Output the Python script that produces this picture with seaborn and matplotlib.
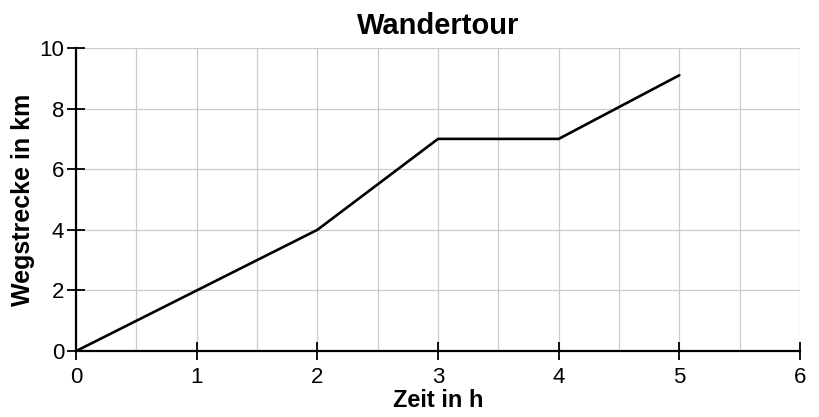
import pandas as pd
import matplotlib.pyplot as plt
from matplotlib.ticker import MultipleLocator
import seaborn as sns

# data
zeit = [0, 1, 2, 3, 4, 5]
strecke = [0, 2, 4, 7, 7, 9.1]

sns.set_style("white")
plt.rcParams['font.family'] = ['Liberation Sans', 'DejaVu Sans']
plt.rcParams['text.color'] = 'black'
plt.rcParams['axes.labelcolor'] = 'black'
plt.rcParams['xtick.color'] = 'black'
plt.rcParams['ytick.color'] = 'black'

df = pd.DataFrame({"Zeit": zeit, "Strecke": strecke})

fig = plt.figure(figsize=(8.19, 4.17), dpi=100)
ax = fig.add_axes([0.0928, 0.158, 0.8840, 0.727])

sns.lineplot(data=df, x="Zeit", y="Strecke", ax=ax, color="black",
             linewidth=1.9, zorder=5)

ax.set_xlim(0, 6)
ax.set_ylim(0, 10)
ax.xaxis.set_major_locator(MultipleLocator(1))
ax.xaxis.set_minor_locator(MultipleLocator(0.5))
ax.yaxis.set_major_locator(MultipleLocator(2))

ax.grid(True, which='both', color='#cccccc', linewidth=0.9)
ax.set_axisbelow(True)

for side in ['top', 'right']:
    ax.spines[side].set_visible(False)
for side in ['left', 'bottom']:
    ax.spines[side].set_color('black')
    ax.spines[side].set_linewidth(1.6)
    ax.spines[side].set_zorder(6)

ax.tick_params(axis='both', which='major', direction='inout', length=13,
               width=1.3, color='black', labelsize=16, pad=2,
               bottom=True, left=True)
ax.tick_params(axis='x', which='major', pad=5)
ax.tick_params(axis='both', which='minor', length=0)
for t in ax.get_xticklines() + ax.get_yticklines():
    t.set_clip_on(False)

ax.set_title("Wandertour", fontsize=21, fontweight='bold', pad=10)
ax.set_xlabel("Zeit in h", fontsize=17, fontweight='bold', labelpad=1)
ax.set_ylabel("Wegstrecke in km", fontsize=18, fontweight='bold', labelpad=3)

plt.savefig("out.png", dpi=100)
